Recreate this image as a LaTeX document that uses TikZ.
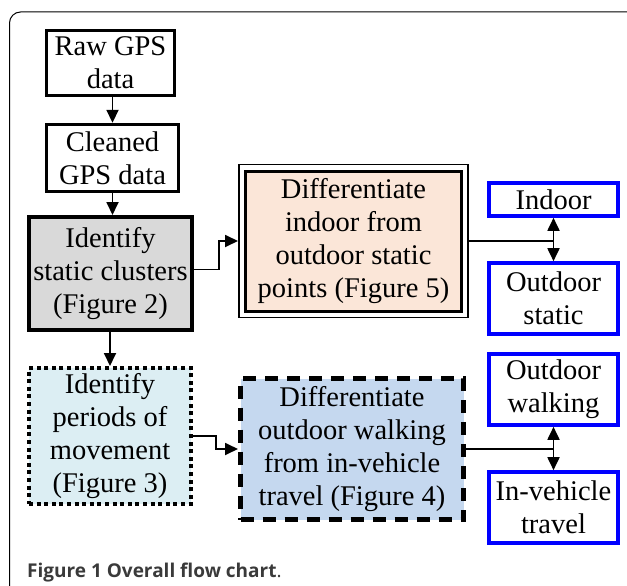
\documentclass[tikz,border=0pt]{standalone}
\usepackage{fontspec}
\setmainfont{Liberation Serif}
\newfontfamily\capfont{Open Sans}
\usetikzlibrary{arrows.meta}
\definecolor{graybox}{HTML}{D9D9D9}
\definecolor{peach}{HTML}{FBE6D8}
\definecolor{lightblue}{HTML}{DCEEF3}
\definecolor{midblue}{HTML}{C5D8EF}
\definecolor{capgray}{HTML}{3A3A3A}
\definecolor{pureblue}{HTML}{0000FF}
\tikzset{
  box/.style={draw, line width=3.4pt, align=center, inner sep=0pt,
    font=\fontsize{28.5}{33}\selectfont},
  bluebox/.style={box, draw=pureblue, line width=3.6pt, minimum width=129pt},
  arr/.style={line width=1.8pt, -{Triangle[length=13pt,width=12pt]}},
  darr/.style={line width=1.8pt, {Triangle[length=13pt,width=12pt]}-{Triangle[length=13pt,width=12pt]}},
  ln/.style={line width=1.8pt}
}
\begin{document}
\begin{tikzpicture}[x=1pt,y=-1pt]
\useasboundingbox (0,0) rectangle (627,586);
% frame
\draw[line width=1pt, rounded corners=11pt] (9.5,586) -- (9.5,12) -- (627,12);
% nodes
\node[box, minimum width=128pt, minimum height=65pt] (raw) at (110.5,63) {Raw GPS\\data};
\node[box, minimum width=132pt, minimum height=67pt] (clean) at (112.5,158) {Cleaned\\GPS data};
\node[box, fill=graybox, line width=4pt, minimum width=163pt, minimum height=113pt] (static) at (110.5,273.5) {Identify\\static clusters\\(Figure 2)};
\node[box, fill=peach, line width=3pt, minimum width=216pt, minimum height=140pt] (diffin) at (353.5,241) {Differentiate\\indoor from\\outdoor static\\points (Figure 5)};
\draw[line width=1.3pt] ([shift={(-5,-5)}]diffin.north west) rectangle ([shift={(5,5)}]diffin.south east);
\node[bluebox, minimum height=33pt] (indoor) at (553.5,199.5) {Indoor};
\node[bluebox, minimum height=71pt] (ostatic) at (553.5,298.5) {Outdoor\\static};
\node[box, fill=lightblue, line width=4pt, dash pattern=on 4pt off 3.6pt, minimum width=162pt, minimum height=136pt] (periods) at (110,436) {Identify\\periods of\\movement\\(Figure 3)};
\node[box, fill=midblue, line width=5pt, dash pattern=on 13pt off 9pt, minimum width=223pt, minimum height=141pt] (walk) at (352,449) {Differentiate\\outdoor walking\\from in-vehicle\\travel (Figure 4)};
\node[bluebox, minimum height=71pt] (owalk) at (553.5,389.5) {Outdoor\\walking};
\node[bluebox, minimum height=71pt] (veh) at (553.5,507.5) {In-vehicle\\travel};
% connectors
\draw[arr] (raw.south -| clean.north) -- (clean.north);
\draw[arr] (clean.south) -- (clean.south |- static.north);
\coordinate (dinw) at ([xshift=-6pt]diffin.west);
\draw[arr] ([yshift=4pt]static.east) -- ++(25,0) |- (dinw);
\draw[arr] (static.south -| periods.north) -- (periods.north);
\draw[arr] (periods.east) -- ++(23,0) |- (walk.west);
\coordinate (dine) at ([xshift=6pt]diffin.east);
\draw[ln] (dine) -- (dine -| indoor.south);
\draw[darr] (indoor.south) -- (ostatic.north);
\draw[ln] (walk.east) -- (walk.east -| owalk.south);
\draw[darr] (owalk.south) -- (veh.north);
% caption
\node[anchor=base west, inner sep=0pt, text=capgray, font=\capfont\fontsize{19}{22}\selectfont] (cap) at (27,577) {\textbf{Figure 1 Overall flow chart}.};
\end{tikzpicture}
\end{document}
